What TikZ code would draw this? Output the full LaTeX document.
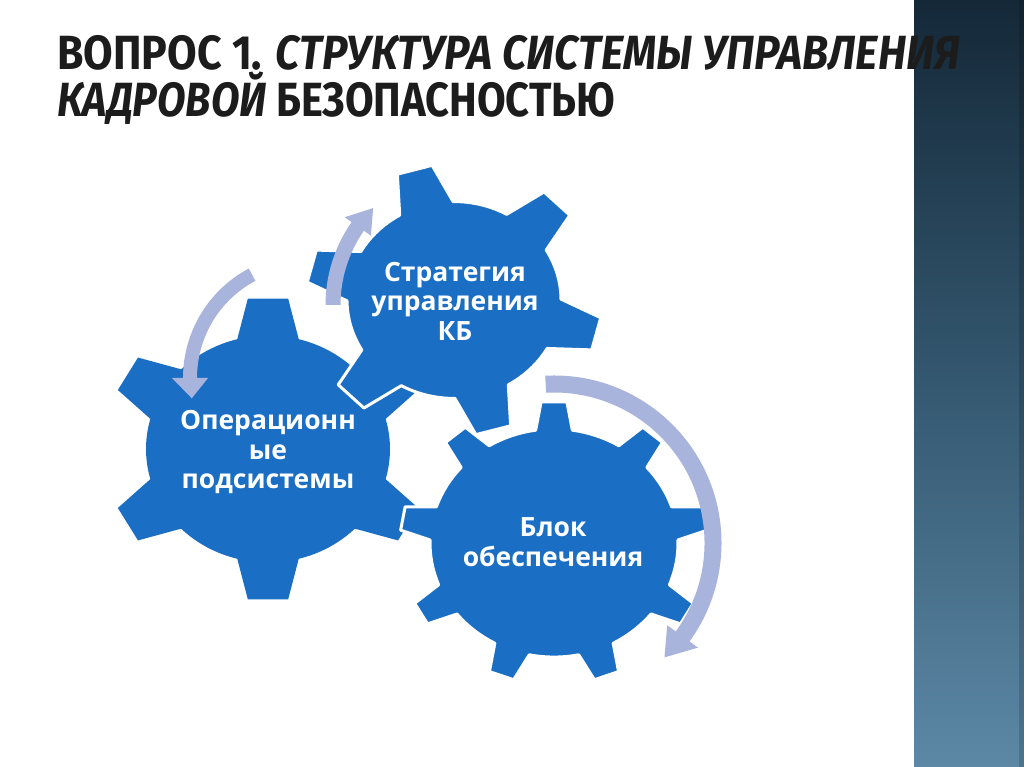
\documentclass[tikz,border=0pt]{standalone}
\usepackage{fontspec}
\usepackage{graphicx}
\setmainfont{Open Sans}
\newfontfamily\titlefont{Fira Sans}
\newfontfamily\gearfont{Open Sans}
\definecolor{gearblue}{RGB}{26,110,196}
\definecolor{arrowcol}{RGB}{168,180,219}
\definecolor{titlecol}{RGB}{28,28,28}
\definecolor{stripTop}{RGB}{20,40,56}
\definecolor{stripMid}{RGB}{52,88,112}
\definecolor{stripBot}{RGB}{92,136,166}
% #1 teeth, #2 last index, #3 start angle, #4 body radius, #5 tip radius, #6 half tip angle, #7 half base angle
\newcommand\gearpath[7]{({#3-#7}:#4) \foreach \k [evaluate=\k as \t using {#3+\k*360/#1}] in {0,...,#2} { -- ({\t-#6}:#5) -- ({\t+#6}:#5) -- ({\t+#7}:#4) arc[start angle={\t+#7}, end angle={\t+360/#1-#7}, radius=#4] }}
% #1 radius, #2 half shaft width, #3 tail angle, #4 head base angle, #5 tip angle, #6 half head width
\newcommand\arrowpath[6]{({#3}:{#1+#2}) arc[start angle=#3, end angle=#4, radius={#1+#2}] -- ({#4}:{#1+#6}) -- ({#5}:#1) -- ({#4}:{#1-#6}) -- ({#4}:{#1-#2}) arc[start angle=#4, end angle=#3, radius={#1-#2}] -- cycle}
\begin{document}
\begin{tikzpicture}[x=1pt,y=1pt,
  gearfill/.style={fill=gearblue},
  gearcut/.style={fill=gearblue, draw=white, line width=3pt, line join=round},
  cyclearrow/.style={fill=arrowcol},
  geartext/.style={text=white, inner sep=0pt, font=\gearfont\bfseries\fontsize{26.5}{29.5}\selectfont, align=center},
  titleline/.style={anchor=base west, inner sep=0pt, text=titlecol, font=\titlefont\bfseries\fontsize{48}{48}\selectfont}]
\useasboundingbox (0,0) rectangle (1024,767);
\fill[white] (0,0) rectangle (1024,767);
\shade[top color=stripTop, bottom color=stripBot, middle color=stripMid] (914,0) rectangle (1024,767);
\fill[black, opacity=0.15] (1019,0) rectangle (1024,767);

% gears
\begin{scope}[shift={(268,318)}, yscale=0.93]
  \fill[gearfill] \gearpath{6}{5}{90}{122}{163}{7.1}{14.6} -- cycle;
\end{scope}
\begin{scope}[shift={(454,467)}, yscale=0.92]
  \filldraw[gearcut] \gearpath{6}{5}{-14.5}{107}{148}{7}{15} -- cycle;
\end{scope}
\begin{scope}[shift={(554,224)}, yscale=0.92]
  \filldraw[gearcut] \gearpath{9}{8}{90}{124}{154}{4.8}{8.5} -- cycle;
\end{scope}

% cycle arrows
\begin{scope}[shift={(307,389)}]
  \fill[cyclearrow] \arrowpath{117}{7}{118}{180}{190}{18};
\end{scope}
\begin{scope}[shift={(470,462)}]
  \fill[cyclearrow] \arrowpath{137}{7.5}{180}{145}{135}{16};
\end{scope}
\begin{scope}[shift={(554,224)}]
  \fill[cyclearrow] \arrowpath{159}{8.5}{93}{-36}{-46}{19};
\end{scope}

% labels
\node[geartext] (ops) at (268,315) {Операционн\\ые\\подсистемы};
\node[geartext] (strat) at (455,466) {Стратегия\\управления\\КБ};
\node[geartext] (supp) at (553,225) {Блок\\обеспечения};

% title
\node[titleline] (title1) at (57,697) {\resizebox{903pt}{\height}{ВОПРОС 1. \textit{СТРУКТУРА СИСТЕМЫ УПРАВЛЕНИЯ}}};
\node[titleline] (title2) at (57,650) {\resizebox{558pt}{\height}{\textit{КАДРОВОЙ} БЕЗОПАСНОСТЬЮ}};
\end{tikzpicture}
\end{document}
